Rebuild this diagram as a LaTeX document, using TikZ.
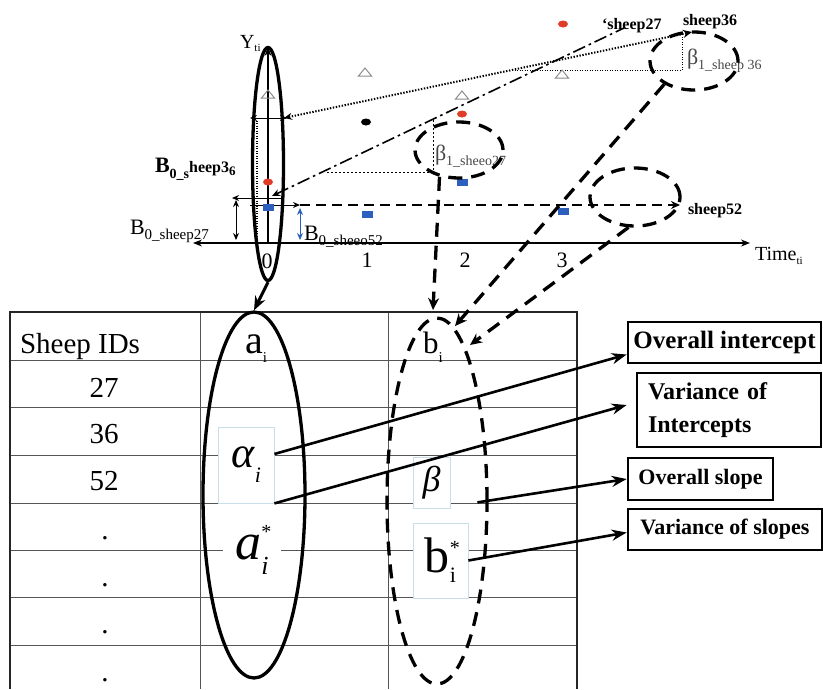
\documentclass[tikz,border=0pt]{standalone}
\usepackage{fontspec}
\setmainfont{Liberation Serif}
\usetikzlibrary{arrows.meta,shapes.geometric,calc}
\definecolor{dotred}{RGB}{225,60,40}
\definecolor{sqblue}{RGB}{45,95,190}
\definecolor{trigray}{RGB}{140,140,140}
\definecolor{boxblue}{RGB}{200,222,232}
\definecolor{tgrid}{RGB}{85,85,85}
\definecolor{lblgray}{RGB}{70,70,70}
\newcommand\fsz[1]{\fontsize{#1}{#1}\selectfont}
\newcommand\lowtx[3]{\raisebox{-#1}{\fsz{#2}#3}}
\newcommand\uptx[3]{\raisebox{#1}{\fsz{#2}#3}}
\begin{document}
\begin{tikzpicture}[x=1pt,y=-1pt,
  txt/.style={inner sep=0pt, outer sep=0pt},
  tline/.style={draw=tgrid, line width=0.9pt},
  tframe/.style={draw=black!85, line width=2pt},
  solidell/.style={draw, ellipse, line width=3.3pt, inner sep=0pt},
  dashell/.style={draw, ellipse, line width=3.3pt, dash pattern=on 14pt off 9pt, inner sep=0pt},
  bigarrow/.style={line width=2.6pt, -{Stealth[length=15pt,width=11pt]}},
  dasharrow/.style={line width=3.3pt, dash pattern=on 14pt off 9pt, -{Stealth[length=12pt,width=11pt]}},
  lblbox/.style={draw, line width=2.6pt, fill=white, inner sep=0pt},
  mathbox/.style={draw=boxblue, line width=0.8pt, fill=white, inner sep=0pt},
  reddot/.style={fill=dotred, ellipse, minimum width=10pt, minimum height=7pt, inner sep=0pt},
  blackdot/.style={fill=black, ellipse, minimum width=10pt, minimum height=7pt, inner sep=0pt},
  bluesq/.style={fill=sqblue, rectangle, minimum width=11pt, minimum height=7pt, inner sep=0pt},
  thinarrow/.style={line width=1pt, -{Stealth[length=7pt,width=6pt]}},
  thinboth/.style={line width=1pt, {Stealth[length=7pt,width=6pt]}-{Stealth[length=7pt,width=6pt]}},
]
\useasboundingbox (0,0) rectangle (823,689);

% ---------------- table grid ----------------
\foreach \yy in {360,407,455,503,550,597,645} \draw[tline] (10,\yy) -- (577,\yy);
\draw[tline] (200,312) -- (200,689);
\draw[tline] (388,312) -- (388,689);
\draw[tframe] (10,689) -- (10,312) -- (577,312) -- (577,689);

% table texts
\node[txt, anchor=base west] (hid) at (20,353) {\fsz{29}Sheep IDs};
\node[txt, anchor=base] (r27) at (104,397) {\fsz{29}27};
\node[txt, anchor=base] (r36) at (104,443) {\fsz{29}36};
\node[txt, anchor=base] (r52) at (104,490) {\fsz{29}52};
\node[txt, anchor=base] (d1) at (105,539) {\fsz{29}.};
\node[txt, anchor=base] (d2) at (105,586) {\fsz{29}.};
\node[txt, anchor=base] (d3) at (105,633) {\fsz{29}.};
\node[txt, anchor=base] (d4) at (105,681) {\fsz{29}.};
\node[txt, anchor=base west] (hai) at (245,353) {\fsz{40}a\lowtx{9pt}{15}{i}};
\node[txt, anchor=base west] (hbi) at (423,353) {\fsz{31}b\lowtx{9pt}{15}{i}};

% math boxes
\node[mathbox, minimum width=56pt, minimum height=76pt] (ab) at (246,465)
  {\fsz{44}\textit{α}\lowtx{15pt}{22}{\textit{i}}};
\node[fill=white, inner sep=1pt, minimum width=58pt] (as) at (252,550)
  {\fsz{52}\textit{a}\makebox[0pt][l]{\uptx{21pt}{20}{*}}\lowtx{15pt}{26}{\textit{i}}\hspace{8pt}};
\node[mathbox, minimum width=37pt, minimum height=51pt] (bb) at (431.5,482.5)
  {\fsz{36}\textit{β}};
\node[mathbox, minimum width=55pt, minimum height=75pt] (bs) at (440.5,560.5)
  {\fsz{50}b\makebox[0pt][l]{\uptx{18pt}{20}{*}}\lowtx{10pt}{22}{i}\hspace{7pt}};

% table ellipses
\node[solidell, minimum width=102pt, minimum height=366pt] (ea) at (254,495) {};
\node[dashell, minimum width=100pt, minimum height=366pt] (eb) at (437,501) {};

% ---------------- plot ----------------
\coordinate (yax0) at (268,243);
\coordinate (yaxtop) at (268,47);
\coordinate (tleft) at (193,243);
\coordinate (tright) at (750,243);
\draw[line width=1.2pt, -{Stealth[length=9pt,width=7pt]}] (yax0) -- (yaxtop);
\draw[line width=1.2pt, {Stealth[length=9pt,width=7pt]}-{Stealth[length=9pt,width=7pt]}] (tleft) -- (tright);

\node[txt, anchor=base west] (ylab) at (240,48) {\fsz{20}Y\lowtx{3pt}{11}{ti}};
\node[txt, anchor=base west] (tlab) at (755,260) {\fsz{20}Time\lowtx{4pt}{11}{ti}};
\node[txt, anchor=base] (t0) at (267,268) {\fsz{22}0};
\node[txt, anchor=base] (t1) at (367,267) {\fsz{22}1};
\node[txt, anchor=base] (t2) at (465,267) {\fsz{22}2};
\node[txt, anchor=base] (t3) at (562,267) {\fsz{22}3};

% helper lines near the Y axis
\coordinate (h1a) at (250,118); \coordinate (h1b) at (287,118);
\draw[thinboth] (h1a) -- (h1b);
\coordinate (h2a) at (282,198); \coordinate (h2b) at (232,198);
\draw[thinarrow] (h2a) -- (h2b);
\coordinate (h3a) at (250,205); \coordinate (h3b) at (300,205);
\draw[thinarrow] (h3a) -- (h3b);
\coordinate (v1a) at (236,200); \coordinate (v1b) at (236,240);
\draw[thinboth] (v1a) -- (v1b);
\coordinate (v2a) at (300,208); \coordinate (v2b) at (300,240);
\draw[thinboth, sqblue] (v2a) -- (v2b);
\coordinate (v3a) at (257,118); \coordinate (v3b) at (257,243);
\draw[line width=1.2pt, dash pattern=on 1pt off 1.5pt] (v3a) -- (v3b);

% sheep 36 dotted line
\coordinate (dt0) at (284,118); \coordinate (dt1) at (692,32);
\draw[line width=2pt, dash pattern=on 1.4pt off 1.6pt, {Stealth[length=8pt,width=7pt]}-{Stealth[length=9pt,width=8pt]}] (dt0) -- (dt1);
\coordinate (f36a) at (512,70); \coordinate (f36b) at (682,70); \coordinate (f36c) at (682,33);
\draw[line width=0.9pt, dash pattern=on 1pt off 1.5pt] (f36a) -- (f36b) -- (f36c);

% sheep 27 dash-dot line
\coordinate (dd0) at (272,196); \coordinate (dd1) at (624,28);
\draw[line width=1.6pt, dash pattern=on 13pt off 4pt on 2.5pt off 4pt, {Stealth[length=8pt,width=7pt]}-] (dd0) -- (dd1);
\coordinate (f27a) at (327,172); \coordinate (f27b) at (433,172); \coordinate (f27c) at (433,120);
\draw[line width=0.9pt, dash pattern=on 2pt off 2pt] (f27a) -- (f27b) -- (f27c);

% sheep 52 dashed line
\coordinate (s52a) at (300,205); \coordinate (s52b) at (680,205);
\draw[line width=1.8pt, dash pattern=on 10pt off 6pt, -{Stealth[length=9pt,width=8pt]}] (s52a) -- (s52b);

% data points
\node[reddot] (p1) at (563,24) {};
\node[reddot] (p2) at (462,114) {};
\node[reddot] (p3) at (268,182) {};
\node[blackdot] (p4) at (366,122) {};
\node[bluesq] (q1) at (268,207) {};
\node[bluesq] (q2) at (367,214) {};
\node[bluesq] (q3) at (462,182) {};
\node[bluesq] (q4) at (563,211) {};
\foreach \px/\py in {365/72, 268/94, 462/95, 562/74}
  \draw[trigray, line width=1pt] (\px-6.5,\py+4) -- (\px,\py-4) -- (\px+6.5,\py+4) -- cycle;

% labels of the plot
\node[txt, anchor=base west] (b27) at (130,234) {\fsz{22}B\lowtx{5pt}{15}{0\_sheep27}};
\node[txt, anchor=base west] (b52) at (304,240) {\fsz{22}B\lowtx{5pt}{15}{0\_sheeo52}};
\node[txt, anchor=base west] (b36) at (155,172) {\bfseries\fsz{22}B\lowtx{6pt}{14}{0\_s}\fsz{16}heep3\lowtx{3pt}{13}{6}};
\node[txt, anchor=base west] (l27) at (602,29) {\bfseries\fsz{16}‘sheep27};
\node[txt, anchor=base west] (l36) at (683,25) {\bfseries\fsz{16}sheep36};
\node[txt, anchor=base west] (l52) at (688,214) {\bfseries\fsz{16}sheep52};
\node[txt, anchor=base west, text=lblgray] (be36) at (687,64) {\fsz{22}β\lowtx{5pt}{14}{1\_sheep 36}};
\node[txt, anchor=base west, text=lblgray] (be27) at (435,160) {\fsz{22}β\lowtx{5pt}{14}{1\_sheeo27}};

% ellipses of the plot
\node[solidell, minimum width=31pt, minimum height=233pt] (ey) at (268,164) {};
\node[dashell, minimum width=88pt, minimum height=56pt] (e27) at (459,150) {};
\node[dashell, minimum width=88pt, minimum height=58pt] (e36) at (694,61) {};
\node[dashell, minimum width=90pt, minimum height=58pt] (e52) at (635,197) {};

% connectors plot -> table
\draw[line width=3pt, -{Stealth[length=14pt,width=11pt]}] (ey.south) -- (ea.north);
\coordinate (bt1) at (433,310);
\coordinate (bt2) at (455,326);
\coordinate (bt3) at (470,345);
\draw[dasharrow] (e27.234) -- (bt1);
\draw[dasharrow] (e36.218) -- (bt2);
\draw[dasharrow] (e52.258) -- (bt3);

% right label boxes
\node[lblbox, minimum width=193pt, minimum height=41pt, font=\bfseries\fsz{25}] (oi) at (724.5,342.5) {Overall intercept};
\node[lblbox, minimum width=184pt, minimum height=74pt, text width=162pt, align=left, font=\bfseries\fontsize{24}{33}\selectfont] (vi) at (729,410) {Variance of\\Intercepts};
\node[lblbox, minimum width=145pt, minimum height=42pt, font=\bfseries\fsz{22}] (os) at (700.5,479) {Overall slope};
\node[lblbox, minimum width=194pt, minimum height=41pt, font=\bfseries\fsz{22}] (vs) at (725,529.5) {Variance of slopes};

% arrows table -> labels
\draw[bigarrow] ([yshift=11pt]ab.east) -- ([yshift=-12pt]oi.west);
\draw[bigarrow] (ab.south east) -- ([xshift=-9pt,yshift=5pt]vi.west);
\draw[bigarrow] ($(bb.south east)+(27,-6)$) -- (os.west);
\draw[bigarrow] (bs.east) -- ([yshift=-3pt]vs.west);
\end{tikzpicture}
\end{document}
